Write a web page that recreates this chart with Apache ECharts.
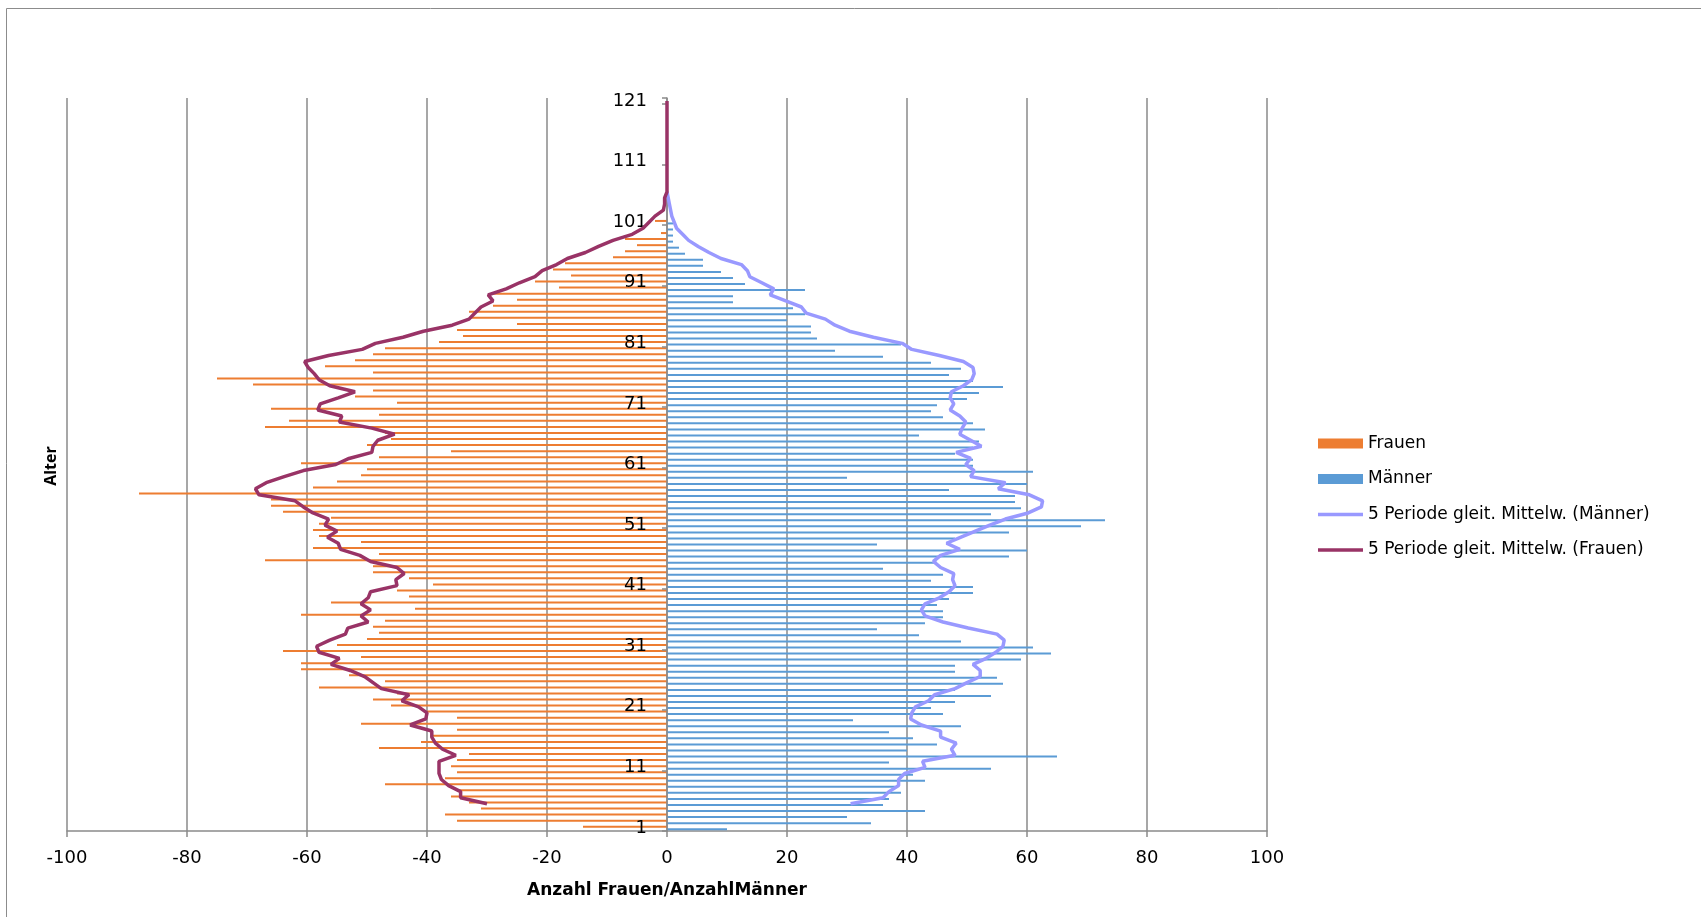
<!DOCTYPE html>
<html>
<head>
<meta charset="utf-8">
<script src="https://cdn.jsdelivr.net/npm/echarts@6/dist/echarts.min.js"></script>
<style>
  html, body { margin: 0; padding: 0; background: #fff; }
  #chart { width: 1701px; height: 917px; }
</style>
</head>
<body>
<div id="chart"></div>
<script>
// Alter 1..121
var alter = [];
for (var i = 1; i <= 121; i++) alter.push(String(i));

// Frauen, Alter 1..101 (negativ nach links)
var frauen = [
  -14, -35, -37, -31, -33, -36, -35, -47, -37, -35,
  -36, -35, -33, -48, -41, -39, -35, -51, -35, -40,
  -46, -49, -45, -58, -47, -53, -61, -61, -51, -64,
  -55, -50, -48, -49, -47, -61, -42, -56, -43, -45,
  -39, -43, -49, -49, -67, -48, -59, -51, -58, -59,
  -58, -56, -64, -66, -66, -88, -59, -55, -51, -50,
  -61, -48, -36, -50, -46, -47, -67, -63, -48, -66,
  -45, -52, -49, -69, -75, -49, -57, -52, -49, -47,
  -38, -34, -35, -25, -33, -33, -29, -25, -29, -18,
  -22, -16, -19, -17, -9, -7, -5, -7, -1, 0,
  -2
];

// Männer, Alter 1..101
var maenner = [
  10, 34, 30, 43, 36, 37, 39, 38, 43, 41,
  54, 37, 65, 40, 45, 41, 37, 49, 31, 46,
  44, 48, 54, 48, 56, 55, 48, 48, 59, 64,
  61, 49, 42, 35, 43, 46, 46, 45, 47, 51,
  51, 44, 46, 36, 45, 57, 60, 35, 48, 57,
  69, 73, 54, 59, 58, 58, 47, 60, 30, 61,
  51, 51, 48, 51, 52, 42, 53, 51, 46, 44,
  45, 50, 52, 56, 51, 47, 49, 44, 36, 28,
  39, 25, 24, 24, 20, 23, 21, 11, 11, 23,
  13, 11, 9, 6, 6, 3, 2, 1, 1, 1,
  1
];

// gleitender Mittelwert Männer (ab Alter 5, bis 106)
var mittelMaenner = [
  null, null, null, null,
  30.6, 36, 37, 38.6, 38.6, 39.6, 43, 42.6, 48, 47.4,
  48.2, 45.6, 45.6, 42.4, 40.6, 40.8, 41.4, 43.6, 44.6, 48,
  50, 52.2, 52.2, 51, 53.2, 54.8, 56, 56.2, 55, 50.2,
  46, 43, 42.4, 43, 45.4, 47, 48, 47.6, 47.8, 45.6,
  44.4, 45.6, 48.8, 46.6, 49, 51.4, 53.8, 56.4, 60.2, 62.4,
  62.6, 60.4, 55.2, 56.4, 50.6, 51.2, 49.8, 50.6, 48.2, 52.4,
  50.6, 48.8, 49.2, 49.8, 48.8, 47.2, 47.8, 47.2, 47.4, 49.4,
  50.8, 51.2, 51, 49.4, 45.4, 40.8, 39.2, 34.4, 30.4, 28,
  26.4, 23.2, 22.4, 19.8, 17.2, 17.8, 15.8, 13.8, 13.4, 12.4,
  9, 7, 5.2, 3.6, 2.6, 1.6, 1.2, 0.8, 0.6, 0.4,
  0.2, 0
];

// gleitender Mittelwert Frauen (ab Alter 5, bis 121)
var mittelFrauen = [
  null, null, null, null,
  -30, -34.4, -34.4, -36.4, -37.6, -38, -38, -38, -35.2, -37.4,
  -38.6, -39.2, -39.2, -42.8, -40.2, -40, -41.4, -44.2, -43, -47.6,
  -49, -50.4, -52.8, -56, -54.6, -58, -58.4, -56.2, -53.6, -53.2,
  -49.8, -51, -49.4, -51, -49.8, -49.4, -45, -45.2, -43.8, -45,
  -49.4, -51.2, -54.4, -54.8, -56.6, -55, -57, -56.4, -59, -60.6,
  -62, -68, -68.6, -66.8, -63.8, -60.6, -55.2, -53, -49.2, -49,
  -48.2, -45.4, -49.2, -54.6, -54.2, -58.2, -57.8, -54.8, -52, -56.2,
  -58, -58.8, -59.8, -60.4, -56.4, -50.8, -48.6, -44, -40.6, -35.8,
  -33, -32, -31, -29, -29.8, -26.8, -24.6, -22, -20.8, -18.4,
  -16.6, -13.6, -11.4, -9, -5.8, -4, -3, -2, -0.6, -0.4,
  -0.4, 0, 0, 0, 0, 0, 0, 0, 0, 0,
  0, 0, 0, 0, 0, 0, 0
];

var grau = '#8a8a8a';
var schrift = '"DejaVu Sans", sans-serif';
var linienIcon = 'path://M0,0H45V3.5H0Z';

var myChart = echarts.init(document.getElementById('chart'));

var option = {
  animation: false,
  textStyle: { fontFamily: schrift },
  grid: { left: 67, right: 434, top: 98, bottom: 86 },
  legend: {
    orient: 'vertical',
    left: 1313,
    top: 430,
    itemWidth: 45,
    itemHeight: 10,
    itemGap: 18.5,
    textStyle: { fontSize: 17, color: '#000', fontFamily: schrift },
    data: [
      { name: 'Frauen', icon: 'rect' },
      { name: 'Männer', icon: 'rect' },
      { name: '5 Periode gleit. Mittelw. (Männer)', icon: linienIcon },
      { name: '5 Periode gleit. Mittelw. (Frauen)', icon: linienIcon }
    ]
  },
  graphic: [
    {
      type: 'rect',
      silent: true,
      z: -10,
      shape: { x: 6.5, y: 8.5, width: 2000, height: 2000 },
      style: { fill: null, stroke: '#8c8c8c', lineWidth: 1 }
    },
    {
      type: 'text',
      x: 51,
      y: 466,
      rotation: Math.PI / 2,
      style: {
        text: 'Alter',
        align: 'center',
        verticalAlign: 'middle',
        font: 'bold 16px "Noto Sans"',
        fill: '#000'
      }
    }
  ],
  xAxis: {
    type: 'value',
    min: -100,
    max: 100,
    interval: 20,
    name: 'Anzahl Frauen/AnzahlMänner',
    nameLocation: 'middle',
    nameGap: 51,
    nameTextStyle: { fontWeight: 'bold', fontSize: 17, color: '#000', fontFamily: schrift },
    axisLine: { show: true, lineStyle: { color: grau, width: 1.5 } },
    axisTick: { show: true, length: 6, lineStyle: { color: grau, width: 1.5 } },
    axisLabel: { color: '#000', fontSize: 18, margin: 18 },
    splitLine: { show: true, lineStyle: { color: grau, width: 1.5 } }
  },
  yAxis: {
    type: 'category',
    data: alter,
    offset: -600,
    z: 10,
    axisLine: { show: true, onZero: false, lineStyle: { color: grau, width: 1.5 } },
    axisTick: { show: true, interval: 9, length: 5, lineStyle: { color: grau, width: 1.5 } },
    axisLabel: { interval: 9, margin: 20, fontSize: 18, color: '#000' },
    splitLine: { show: false }
  },
  series: [
    {
      name: 'Frauen',
      type: 'bar',
      data: frauen,
      barWidth: 2,
      barGap: '25%',
      itemStyle: { color: '#ED7D31' }
    },
    {
      name: 'Männer',
      type: 'bar',
      data: maenner,
      barWidth: 2,
      itemStyle: { color: '#5B9BD5' }
    },
    {
      name: '5 Periode gleit. Mittelw. (Männer)',
      type: 'line',
      data: mittelMaenner,
      symbol: 'none',
      z: 11,
      lineStyle: { color: '#9999FF', width: 3.5 },
      itemStyle: { color: '#9999FF' }
    },
    {
      name: '5 Periode gleit. Mittelw. (Frauen)',
      type: 'line',
      data: mittelFrauen,
      symbol: 'none',
      z: 12,
      lineStyle: { color: '#993366', width: 3.5 },
      itemStyle: { color: '#993366' }
    }
  ]
};
myChart.setOption(option);
</script>
</body>
</html>
